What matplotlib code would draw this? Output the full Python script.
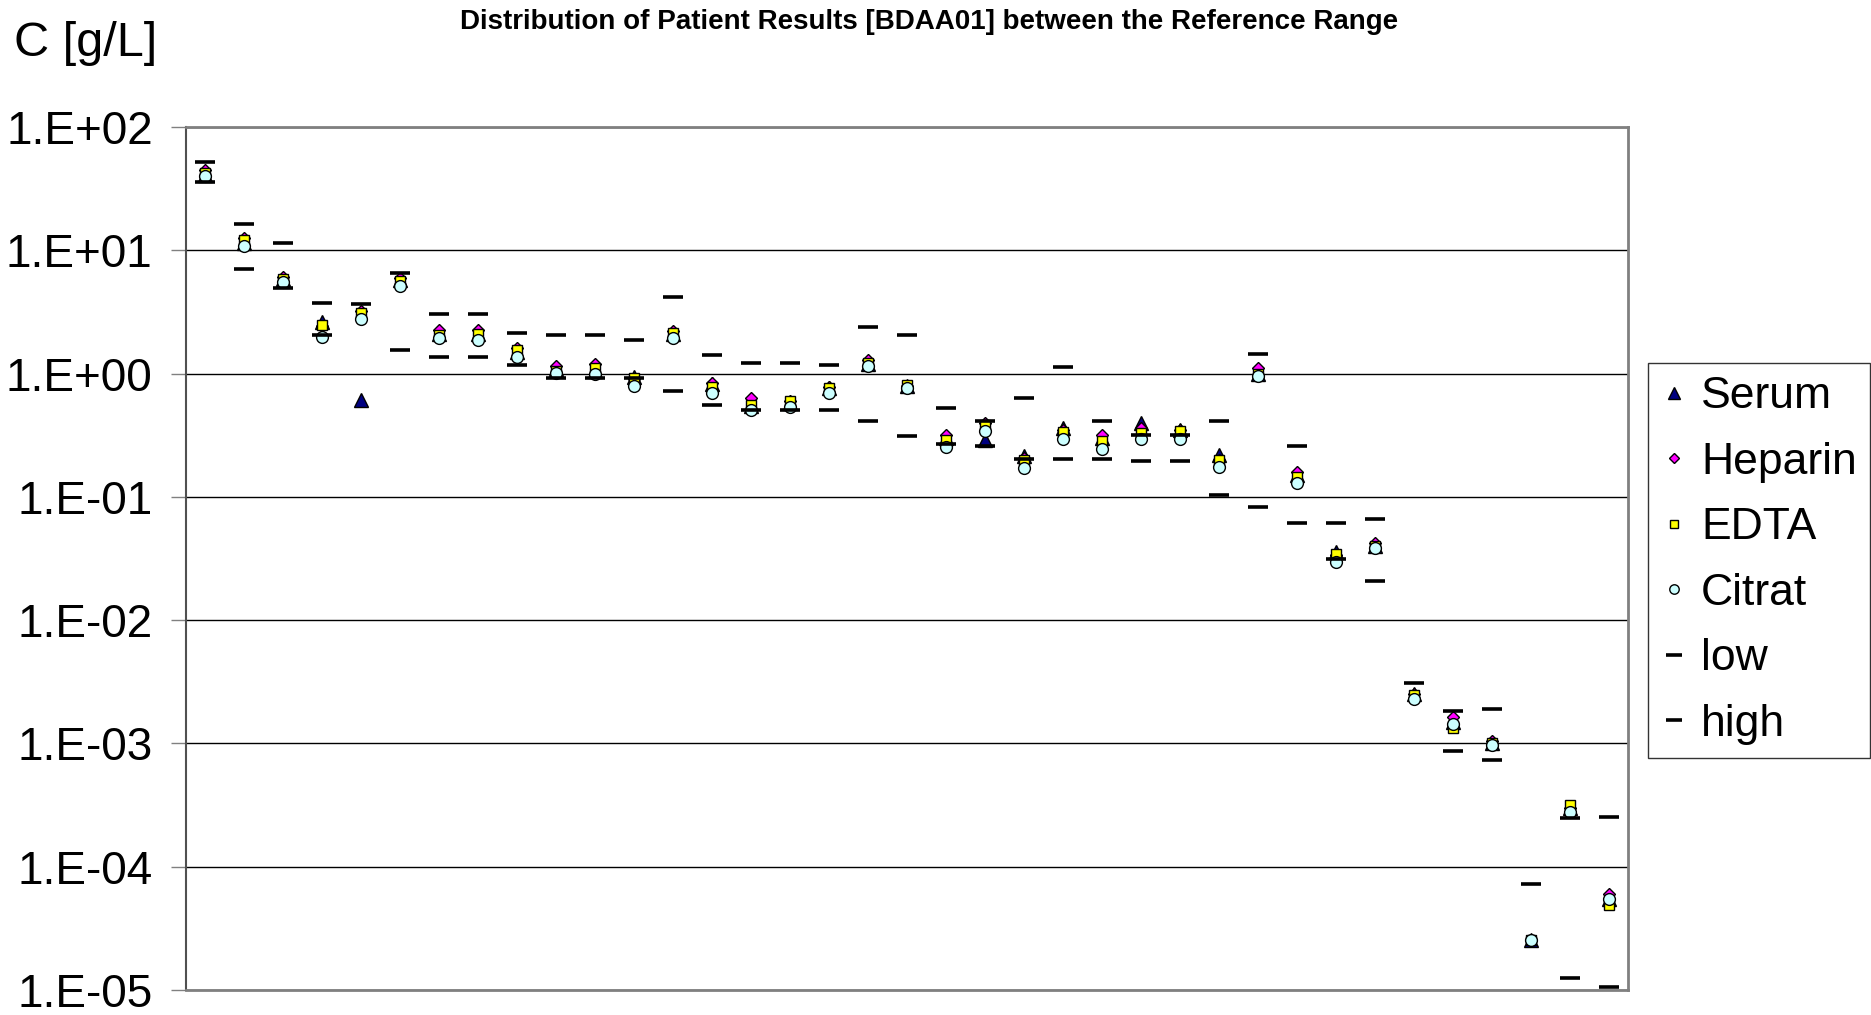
import numpy as np
import matplotlib
matplotlib.use("Agg")
import matplotlib.pyplot as plt
from matplotlib.ticker import FixedLocator, FuncFormatter, NullLocator

nan = np.nan

# ---- data ----
serum = [41, 11.5, 5.8, 2.6, 0.61, 5.7, 2.1, 2.1, 1.5, 1.08, 1.05, 0.94, 2.1, 0.82, 0.55, 0.58,
         0.76, 1.2, 0.8, 0.3, 0.29, 0.215, 0.36, 0.3, 0.395, 0.35, 0.22, 1.0, 0.15, 0.036, 0.04,
         0.0025, 0.0015, 0.001, 2.55e-5, 0.0003, 5.5e-5]
heparin = [45, 12.5, 6.1, 2.45, 3.24, 5.93, 2.26, 2.24, 1.6, 1.15, 1.2, 0.9, 2.2, 0.84, 0.63, 0.6,
           0.78, 1.29, 0.8, 0.32, 0.4, 0.205, 0.35, 0.318, 0.36, 0.35, 0.2, 1.1, 0.16, 0.034, 0.0426,
           0.0025, 0.00163, 0.00105, 2.55e-5, 0.0003, 6.0e-5]
edta = [42.6, 12.1, 5.9, 2.48, 3.08, 5.64, 2.05, 2.08, 1.55, 1.05, 1.10, 0.92, 2.12, 0.78, 0.56, 0.60,
        0.77, 1.22, 0.81, 0.29, 0.385, 0.2, 0.338, 0.286, 0.33, 0.344, 0.2, 1.0, 0.144, 0.0344, 0.04,
        0.00247, 0.00133, 0.001, 2.55e-5, 0.000317, 4.9e-5]
citrat = [40, 10.8, 5.5, 1.99, 2.77, 5.16, 1.93, 1.88, 1.37, 1.02, 0.99, 0.80, 1.95, 0.70, 0.51, 0.54,
          0.70, 1.15, 0.76, 0.255, 0.344, 0.171, 0.293, 0.243, 0.293, 0.293, 0.176, 0.95, 0.129, 0.0295,
          0.0383, 0.00228, 0.00144, 0.00098, 2.55e-5, 0.000277, 5.45e-5]
low = [35.6, 7.05, 4.97, 2.07, nan, 1.55, 1.36, 1.36, 1.17, 0.92, 0.92, 0.92, 0.72, 0.56, 0.51, 0.51,
       0.51, 0.41, 0.31, 0.27, 0.26, 0.203, 0.203, 0.203, 0.195, 0.195, 0.104, 0.082, 0.0614, 0.0315,
       0.0207, nan, 0.000875, 0.00073, nan, 1.25e-5, 1.05e-5]
high = [52.3, 16.4, 11.5, 3.76, 3.65, 6.59, 3.04, 3.04, 2.15, 2.07, 2.07, 1.86, 4.18, 1.41, 1.22, 1.22,
        1.17, 2.37, 2.07, 0.526, 0.41, 0.63, 1.14, 0.41, 0.32, 0.32, 0.41, 1.44, 0.26, 0.0614, 0.0658,
        0.00311, 0.00184, 0.00189, 7.2e-5, 0.000247, 0.000255]
ytick_values = [1e2, 1e1, 1e0, 1e-1, 1e-2, 1e-3, 1e-4, 1e-5]
ytick_labels = ["1.E+02", "1.E+01", "1.E+00", "1.E-01", "1.E-02", "1.E-03", "1.E-04", "1.E-05"]

title = "Distribution of Patient Results [BDAA01] between the Reference Range"
ylabel = "C [g/L]"

plt.rcParams['font.family'] = ['Liberation Sans', 'DejaVu Sans']

fig = plt.figure(figsize=(18.71, 10.15), dpi=100)
ax = fig.add_axes([186/1871, 1-990/1015, (1628-186)/1871, (990-127)/1015])

x = np.arange(len(serum))

ax.plot(x, serum, ls='none', marker='^', ms=10, mfc='#000080', mec='black', mew=1, label='Serum', zorder=3)
ax.plot(x, heparin, ls='none', marker='D', ms=6.5, mfc='#FF00FF', mec='black', mew=1, label='Heparin', zorder=3)
ax.plot(x, edta, ls='none', marker='s', ms=7.5, mfc='#FFFF00', mec='black', mew=1, label='EDTA', zorder=3)
ax.plot(x, citrat, ls='none', marker='o', ms=8.5, mfc='#CCFFFF', mec='black', mew=1, label='Citrat', zorder=3)
ax.plot(x, low, ls='none', marker='_', ms=15, mec='black', mew=2.6, label='low', zorder=4)
ax.plot(x, high, ls='none', marker='_', ms=15, mec='black', mew=2.6, label='high', zorder=4)

ax.set_yscale('log')
ax.set_ylim(1e-5, 1e2)
ax.set_xlim(-0.5, len(serum) - 0.5)
ax.yaxis.set_major_locator(FixedLocator(ytick_values))
ax.yaxis.set_major_formatter(FuncFormatter(lambda v, p: ytick_labels[ytick_values.index(min(ytick_values, key=lambda t: abs(np.log10(t) - np.log10(v))))]))
ax.yaxis.set_minor_locator(NullLocator())
ax.xaxis.set_major_locator(NullLocator())
ax.xaxis.set_minor_locator(NullLocator())
ax.grid(axis='y', which='major', color='black', linewidth=1.0, zorder=0)
ax.set_axisbelow(True)
ax.tick_params(axis='y', which='major', direction='out', length=11, width=1, color='#808080',
               labelsize=33, pad=13)

for side in ['top', 'right', 'bottom']:
    ax.spines[side].set_color('#808080')
    ax.spines[side].set_linewidth(2)
ax.spines['left'].set_color('#505050')
ax.spines['left'].set_linewidth(1.5)

fig.text(929/1871, 1-22/1015, title, ha='center', va='center', fontsize=20, fontweight='bold')
fig.text(14/1871, 1-44/1015, ylabel, ha='left', va='center', fontsize=35)

leg = fig.legend(loc='upper right', bbox_to_anchor=(1870/1871, 1-363/1015), frameon=True,
                 fancybox=False, edgecolor='black', fontsize=32, handlelength=0.6,
                 handletextpad=0.3, labelspacing=0.55, borderpad=0.3, borderaxespad=0,
                 markerscale=0.8)
leg.get_frame().set_linewidth(1)

fig.savefig("out.png", dpi=100)
